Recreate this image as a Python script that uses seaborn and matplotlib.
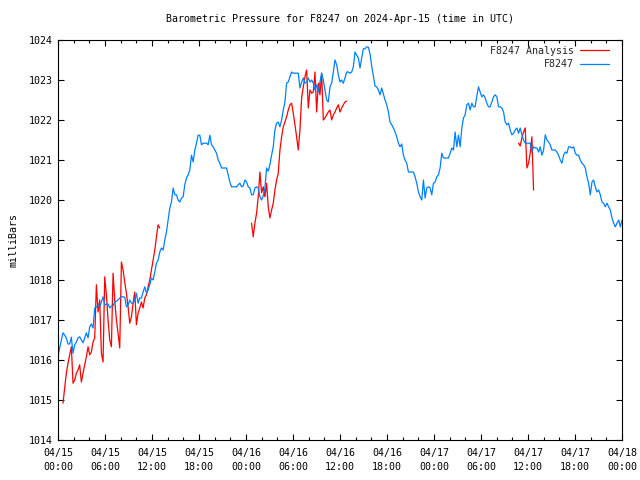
import numpy as np
import pandas as pd
import matplotlib
matplotlib.use("Agg")
import matplotlib.pyplot as plt
import matplotlib.dates as mdates
from matplotlib.lines import Line2D
import seaborn as sns

# ------------------------------------------------------------
# data read off the reference (pressure in mbar, evenly sampled)
# ------------------------------------------------------------
START = "2024-04-15 00:00"
END = "2024-04-18 00:00"

station = [
    1016.10, 1016.30, 1016.50, 1016.68, 1016.62, 1016.55, 1016.40, 1016.40, 1016.57, 1016.17,
    1016.38, 1016.45, 1016.55, 1016.58, 1016.50, 1016.43, 1016.55, 1016.68, 1016.55, 1016.83,
    1016.90, 1016.80, 1017.30, 1017.33, 1017.37, 1017.33, 1017.45, 1017.58, 1017.37, 1017.40,
    1017.40, 1017.30, 1017.35, 1017.35, 1017.45, 1017.47, 1017.50, 1017.55, 1017.58, 1017.58,
    1017.57, 1017.33, 1017.37, 1017.50, 1017.42, 1017.42, 1017.50, 1017.67, 1017.42, 1017.55,
    1017.55, 1017.70, 1017.83, 1017.67, 1017.75, 1017.88, 1018.05, 1018.00, 1018.20, 1018.42,
    1018.50, 1018.70, 1018.80, 1018.75, 1019.00, 1019.20, 1019.50, 1019.80, 1019.95, 1020.30,
    1020.13, 1020.13, 1020.00, 1019.95, 1020.05, 1020.08, 1020.38, 1020.55, 1020.63, 1020.75,
    1021.12, 1020.95, 1021.25, 1021.42, 1021.62, 1021.62, 1021.38, 1021.42, 1021.42, 1021.42,
    1021.38, 1021.62, 1021.38, 1021.33, 1021.25, 1021.17, 1021.00, 1020.92, 1020.80, 1020.80,
    1020.80, 1020.80, 1020.62, 1020.45, 1020.33, 1020.33, 1020.33, 1020.33, 1020.38, 1020.42,
    1020.33, 1020.35, 1020.50, 1020.45, 1020.33, 1020.30, 1020.13, 1020.13, 1020.30, 1020.33,
    1020.30, 1020.08, 1020.00, 1020.10, 1020.30, 1020.80, 1020.72, 1020.88, 1021.12, 1021.33,
    1021.75, 1021.92, 1021.95, 1021.83, 1022.00, 1022.25, 1022.45, 1022.92, 1022.95, 1023.08,
    1023.20, 1023.17, 1023.17, 1023.17, 1023.17, 1022.80, 1022.95, 1023.05, 1022.92, 1022.95,
    1023.05, 1022.95, 1023.00, 1022.92, 1022.75, 1022.88, 1022.70, 1022.95, 1023.17, 1023.00,
    1022.75, 1022.50, 1022.45, 1022.83, 1022.92, 1023.20, 1023.50, 1023.38, 1023.13, 1022.95,
    1023.00, 1022.92, 1023.05, 1023.20, 1023.20, 1023.17, 1023.20, 1023.33, 1023.70, 1023.62,
    1023.55, 1023.30, 1023.55, 1023.78, 1023.78, 1023.83, 1023.82, 1023.65, 1023.35, 1023.10,
    1022.85, 1022.83, 1022.75, 1022.63, 1022.80, 1022.65, 1022.50, 1022.38, 1022.20, 1021.95,
    1021.88, 1021.80, 1021.70, 1021.58, 1021.42, 1021.33, 1021.40, 1021.12, 1021.00, 1020.92,
    1020.70, 1020.70, 1020.70, 1020.70, 1020.58, 1020.42, 1020.20, 1020.08, 1020.00, 1020.50,
    1020.05, 1020.30, 1020.33, 1020.30, 1020.13, 1020.42, 1020.45, 1020.58, 1020.63, 1020.80,
    1021.17, 1021.05, 1021.05, 1021.05, 1021.05, 1021.17, 1021.30, 1021.25, 1021.70, 1021.33,
    1021.62, 1021.33, 1021.80, 1022.05, 1022.13, 1022.38, 1022.42, 1022.25, 1022.42, 1022.33,
    1022.33, 1022.60, 1022.83, 1022.70, 1022.58, 1022.63, 1022.55, 1022.42, 1022.33, 1022.33,
    1022.45, 1022.58, 1022.63, 1022.58, 1022.33, 1022.33, 1022.30, 1022.20, 1021.95, 1021.88,
    1021.92, 1021.75, 1021.63, 1021.67, 1021.75, 1021.80, 1021.67, 1021.80, 1021.63, 1021.50,
    1021.42, 1021.42, 1021.42, 1021.42, 1021.20, 1021.33, 1021.30, 1021.30, 1021.20, 1021.33,
    1021.12, 1021.25, 1021.63, 1021.50, 1021.45, 1021.38, 1021.25, 1021.25, 1021.25, 1021.20,
    1021.12, 1021.00, 1020.92, 1021.12, 1021.20, 1021.17, 1021.33, 1021.33, 1021.30, 1021.33,
    1021.17, 1021.12, 1021.12, 1021.00, 1020.92, 1020.88, 1020.80, 1020.58, 1020.42, 1020.13,
    1020.45, 1020.50, 1020.33, 1020.20, 1020.25, 1020.13, 1019.95, 1019.92, 1019.83, 1019.92,
    1019.83, 1019.75, 1019.55, 1019.42, 1019.33, 1019.42, 1019.50, 1019.33, 1019.50,
]

# analysis series: three pieces, each starting at a sample of the station grid
analysis_1_start = 3
analysis_1 = [
    1014.92, 1015.30, 1015.67, 1015.92, 1016.13, 1016.33, 1015.42, 1015.50, 1015.67, 1015.75,
    1015.88, 1015.45, 1015.67, 1015.88, 1016.08, 1016.33, 1016.13, 1016.20, 1016.45, 1016.55,
    1017.88, 1017.20, 1017.50, 1016.17, 1015.95, 1018.08, 1017.63, 1017.00, 1016.50, 1016.33,
    1018.17, 1017.50, 1017.00, 1016.67, 1016.30, 1018.45, 1018.25, 1017.95, 1017.67, 1017.33,
    1016.92, 1017.08, 1017.42, 1017.70, 1016.88, 1017.17, 1017.30, 1017.45, 1017.30, 1017.55,
    1017.63, 1017.83, 1018.00, 1018.25, 1018.50, 1018.75, 1019.08, 1019.38, 1019.30,
]
analysis_2_start = 116
analysis_2 = [
    1019.42, 1019.08, 1019.42, 1019.67, 1020.08, 1020.70, 1020.18, 1020.33, 1020.08, 1020.42,
    1019.83, 1019.55, 1019.75, 1019.92, 1020.25, 1020.50, 1020.67, 1021.25, 1021.58, 1021.83,
    1021.95, 1022.08, 1022.25, 1022.38, 1022.42, 1022.17, 1021.88, 1021.58, 1021.25, 1021.75,
    1022.55, 1022.83, 1023.08, 1023.25, 1022.30, 1022.75, 1022.67, 1022.70, 1023.20, 1022.20,
    1022.92, 1022.63, 1023.17, 1022.00, 1022.05, 1022.13, 1022.20, 1022.25, 1022.00, 1022.13,
    1022.20, 1022.30, 1022.38, 1022.20, 1022.30, 1022.38, 1022.45, 1022.47,
]
analysis_3_start = 276
analysis_3 = [1021.42, 1021.35, 1021.55, 1021.70, 1021.80, 1020.80, 1020.92, 1021.17, 1021.58, 1020.25]

RED = "#ff0000"
BLUE = "#0080ff"

# ------------------------------------------------------------
# plot
# ------------------------------------------------------------
sns.set_theme(style="ticks")
plt.rcParams["font.family"] = ["DejaVu Sans Mono"]
plt.rcParams["font.size"] = 7.2

times = pd.date_range(START, END, periods=len(station))

fig = plt.figure(figsize=(6.4, 4.8), dpi=100)
ax = fig.add_axes([58 / 640, 40 / 480, 564 / 640, 400 / 480])

for start, vals in [(analysis_1_start, analysis_1),
                    (analysis_2_start, analysis_2),
                    (analysis_3_start, analysis_3)]:
    sns.lineplot(x=times[start:start + len(vals)], y=vals, color=RED,
                 linewidth=0.9, ax=ax)
sns.lineplot(x=times, y=station, color=BLUE, linewidth=0.9, ax=ax)

ax.set_xlim(pd.Timestamp(START), pd.Timestamp(END))
ax.set_ylim(1014, 1024)
ax.set_yticks(np.arange(1014, 1025, 1))
ax.yaxis.set_major_formatter(matplotlib.ticker.FormatStrFormatter("%d"))
ax.xaxis.set_major_locator(mdates.HourLocator(byhour=[0, 6, 12, 18]))
ax.xaxis.set_minor_locator(mdates.HourLocator(byhour=range(0, 24, 2)))
ax.xaxis.set_major_formatter(mdates.DateFormatter("%m/%d\n%H:%M"))

ax.tick_params(which="both", direction="in", top=True, right=True,
               color="black", width=0.8, labelsize=7.2, labelcolor="black")
ax.tick_params(which="major", length=4)
ax.tick_params(which="minor", length=2)
ax.tick_params(axis="x", which="major", pad=6)
ax.tick_params(axis="y", which="major", pad=4)
for lbl in ax.get_xticklabels():
    lbl.set_linespacing(1.45)

for s in ax.spines.values():
    s.set_color("black")
    s.set_linewidth(0.8)

ax.set_xlabel("")
ax.set_ylabel("milliBars", fontsize=7.2, labelpad=7, color="black")
ax.set_title("Barometric Pressure for F8247 on 2024-Apr-15 (time in UTC)",
             fontsize=7.2, pad=13, color="black")

handles = [Line2D([], [], color=RED, lw=0.9), Line2D([], [], color=BLUE, lw=0.9)]
ax.legend(handles, ["F8247 Analysis", "F8247"], loc="upper right",
          bbox_to_anchor=(0.988, 1), frameon=False, markerfirst=False,
          fontsize=7.2, handlelength=2.9, handletextpad=0.6,
          labelspacing=0.35, borderaxespad=0.0, borderpad=0.6)

fig.savefig("out.png", dpi=100)
